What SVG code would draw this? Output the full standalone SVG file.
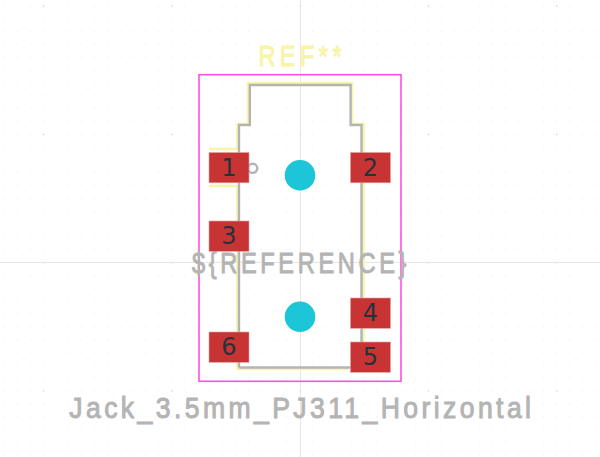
<svg xmlns="http://www.w3.org/2000/svg" width="600" height="457" viewBox="0 0 600 457">
<style>
.silk{fill:none;stroke:#f8f4a8;stroke-width:2.6}
.fab{fill:none;stroke:#b4b4b4;stroke-width:2.4}
.pad{fill:#c83434;stroke:#e2a0a0;stroke-width:.6}
.num{font-family:"DejaVu Sans",sans-serif;font-size:24px;fill:#26323a;text-anchor:middle}
.hole{fill:#1cc6d8}
.big{font-family:"Liberation Sans",sans-serif;font-size:29.5px;fill:#b4b4b4;stroke:#b4b4b4;stroke-width:1}
.axis{stroke:#e6e6e6;stroke-width:1;fill:none}
</style>
<defs>
<pattern id="g" width="12.83" height="12.83" patternUnits="userSpaceOnUse" x="4.17" y="5.35">
<rect x="0" y="0" width="1.2" height="1.2" fill="#efefef"/>
</pattern>
<pattern id="gm" width="128.3" height="128.3" patternUnits="userSpaceOnUse" x="42.8" y="5.35">
<rect x="0" y="0" width="1.4" height="1.4" fill="#d2d2d2"/>
</pattern>
</defs>
<rect width="600" height="457" fill="#ffffff"/>
<rect width="600" height="457" fill="url(#g)"/>
<rect width="600" height="457" fill="url(#gm)"/>
<path class="axis" d="M300.5 0V457M0 262.5H600"/>
<g id="connectors">
<rect x="199" y="74.7" width="202" height="306.6" fill="none" stroke="#ff4fe6" stroke-width="1.6"/>
</g>
<g id="ref-top"><text class="big" transform="scale(.8,1)" x="323" y="66.5" textLength="104" lengthAdjust="spacing" style="fill:#f8f4a8;stroke:#f8f4a8">REF**</text></g>
<g id="silkscreen">
<path class="silk" d="M209 149H237.5V124H248V83H352V124H363.5V153M363.5 182V298M363.5 328V342M209 186H237.5V221M237.5 251V332M237.5 362V369H348"/>
</g>
<g id="fab">
<path class="fab" d="M239 367.5V125H249.8V85H350.6V125H361.5V367.5H239"/>
<circle class="fab" cx="252.7" cy="168.3" r="4.6"/>
</g>
<g id="ref-center"><text class="big" transform="scale(.8,1)" x="240" y="273" textLength="268" lengthAdjust="spacing">${REFERENCE}</text></g>
<g id="value"><text class="big" transform="scale(.9,1)" x="77" y="418" textLength="513" lengthAdjust="spacing">Jack_3.5mm_PJ311_Horizontal</text></g>
<g id="hole-1"><circle class="hole" cx="300" cy="175.3" r="15.3"/></g>
<g id="hole-2"><circle class="hole" cx="300" cy="316.7" r="15.3"/></g>
<g id="pad-1"><rect class="pad" x="209" y="152.5" width="40" height="30.3"/><text class="num" x="229" y="176">1</text></g>
<g id="pad-2"><rect class="pad" x="350.5" y="152.5" width="40" height="30.3"/><text class="num" x="370.5" y="176">2</text></g>
<g id="pad-3"><rect class="pad" x="209" y="221" width="40" height="30.3"/><text class="num" x="229" y="243.5">3</text></g>
<g id="pad-4"><rect class="pad" x="350.5" y="298" width="40" height="30.3"/><text class="num" x="370.5" y="320.5">4</text></g>
<g id="pad-5"><rect class="pad" x="350.5" y="342" width="40" height="30.3"/><text class="num" x="370.5" y="364.5">5</text></g>
<g id="pad-6"><rect class="pad" x="209" y="332" width="40" height="30.3"/><text class="num" x="229" y="355">6</text></g>
</svg>
